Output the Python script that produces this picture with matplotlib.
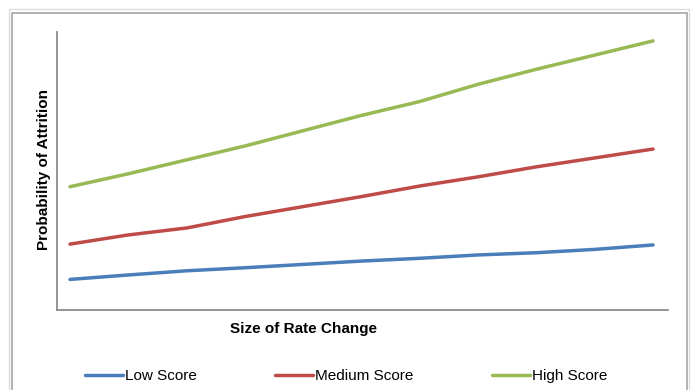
import matplotlib.pyplot as plt
from matplotlib.patches import Rectangle

# Datos (escala arbitraria 0-1)
rate_change = [0, 1, 2, 3, 4, 5, 6, 7, 8, 9, 10]
low_score = [0.110, 0.126, 0.141, 0.152, 0.164, 0.176, 0.186, 0.198, 0.206, 0.218, 0.234]
medium_score = [0.237, 0.270, 0.295, 0.336, 0.372, 0.408, 0.446, 0.479, 0.515, 0.547, 0.579]
high_score = [0.4435, 0.490, 0.540, 0.590, 0.645, 0.700, 0.750, 0.812, 0.866, 0.917, 0.968]

series_names = ['Low Score', 'Medium Score', 'High Score']
series_colors = ['#4A7EBB', '#BE4B48', '#98B954']

plt.rcParams['font.family'] = ['Liberation Sans Narrow', 'Liberation Sans', 'DejaVu Sans']

fig = plt.figure(figsize=(6.93, 3.9), dpi=100)
ax = fig.add_axes([57 / 693, 80 / 390, 611 / 693, 278 / 390])

for vals, name, col in zip([low_score, medium_score, high_score], series_names, series_colors):
    ax.plot(rate_change, vals, color=col, linewidth=2.5, label=name, solid_capstyle='round')

ax.set_xlim(-0.223, 10.257)
ax.set_ylim(0, 1)
ax.set_xticks([])
ax.set_yticks([])
for s in ['top', 'right']:
    ax.spines[s].set_visible(False)
for s in ['left', 'bottom']:
    ax.spines[s].set_color('#8c8c8c')
    ax.spines[s].set_linewidth(1.3)

# Títulos de ejes
fig.text(303 / 693, (390 - 329) / 390, 'Size of Rate Change', fontsize=11,
         fontweight='bold', ha='center', va='center')
fig.text(44 / 693, (390 - 170) / 390, 'Probability of Attrition', fontsize=11,
         fontweight='bold', ha='center', va='center', rotation=90)

# Leyenda
fig.legend(loc='center', bbox_to_anchor=(346 / 693, (390 - 376) / 390), ncol=3,
           frameon=False, fontsize=11, handlelength=2.5, handletextpad=0.15,
           columnspacing=5.1)

# Borde del gráfico
fig.patches.append(Rectangle((9 / 693, -0.05), 680 / 693, (390 - 9) / 390 + 0.05,
                             transform=fig.transFigure, fill=False,
                             edgecolor='#dcdcdc', linewidth=1.0))
fig.patches.append(Rectangle((12 / 693, -0.05), 675 / 693, (390 - 13) / 390 + 0.05,
                             transform=fig.transFigure, fill=False,
                             edgecolor='#a6a6a6', linewidth=1.2))

fig.savefig('out.png', dpi=100)
